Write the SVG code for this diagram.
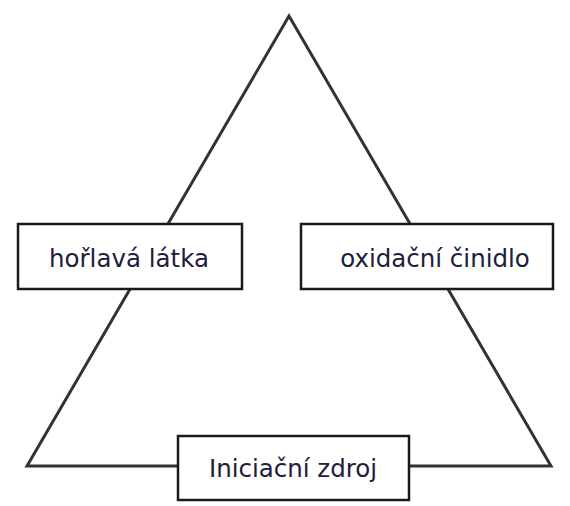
<svg xmlns="http://www.w3.org/2000/svg" width="570" height="506" viewBox="0 0 570 506">
<style>
.box{fill:#fff;stroke:#1a1a1a;stroke-width:2.5}
.lbl{font-family:"DejaVu Sans",Verdana,sans-serif;font-size:24.5px;fill:#20203c;text-anchor:middle}
.edge{fill:none;stroke:#333;stroke-width:3;stroke-linejoin:miter}
</style>
<rect width="570" height="506" fill="#fff"/>
<g id="connectors">
<polygon class="edge" points="289,16 551,466 27,466"/>
</g>
<g id="horlava">
<rect class="box" x="18" y="224" width="224" height="65"/>
<text class="lbl" x="129" y="267">hořlavá látka</text>
</g>
<g id="oxidacni">
<rect class="box" x="301" y="224" width="252" height="65"/>
<text class="lbl" x="435" y="267">oxidační činidlo</text>
</g>
<g id="iniciacni">
<rect class="box" x="178" y="436" width="231" height="64"/>
<text class="lbl" x="293" y="477">Iniciační zdroj</text>
</g>
</svg>
